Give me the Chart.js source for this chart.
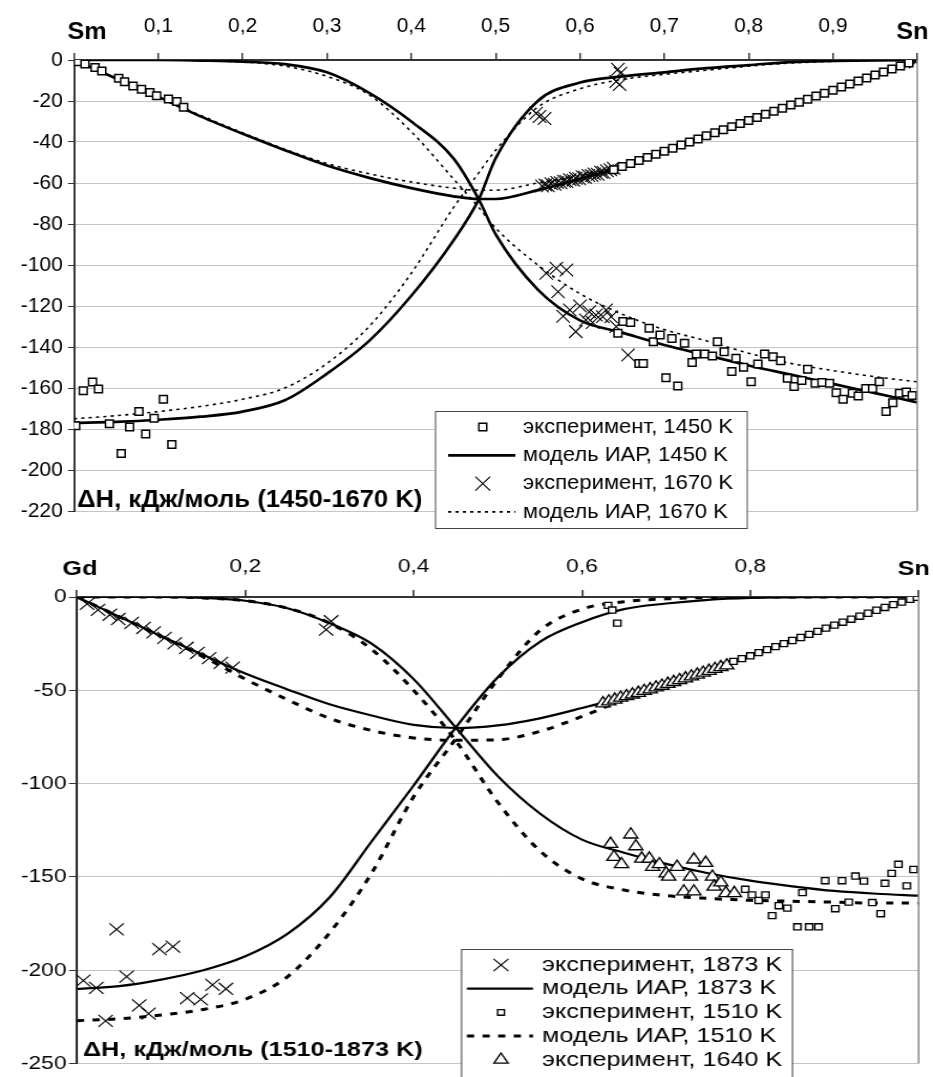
<!DOCTYPE html>
<html><head><meta charset="utf-8">
<script src="https://cdn.jsdelivr.net/npm/chart.js@4.4.0/dist/chart.umd.min.js"></script>
<style>
html,body{margin:0;padding:0;background:#fff;}
#wrap{position:relative;width:933px;height:1077px;overflow:hidden;background:#fff}
.panel{position:absolute;left:0;transform-origin:0 0;}
canvas{display:block}
</style></head><body>
<div id="wrap">
<div class="panel" style="top:0;width:889px;height:540px;transform:scaleX(1.0495)"><canvas id="c1" width="889" height="540"></canvas></div>
<div class="panel" style="top:540px;width:778px;height:537px;transform:scaleX(1.1992)"><canvas id="c2" width="778" height="537"></canvas></div>
</div>
<script>
// ===== Top panel: Sm–Sn =====
const smEndLabels = ['Sm', 'Sn'];
const smTitle = 'ΔH, кДж/моль (1450-1670 K)';
const smLegendLabels = ['эксперимент, 1450 K', 'модель ИАР, 1450 K', 'эксперимент, 1670 K', 'модель ИАР, 1670 K'];
const smGridX = [0,0.05,0.1,0.15,0.2,0.25,0.3,0.35,0.4,0.45,0.48,0.5,0.55,0.6,0.65,0.7,0.75,0.8,0.85,0.9,0.95,1];
const smInt1450  = [0,-9,-18,-27.5,-36,-44,-51.5,-57.5,-62.5,-66.5,-67.8,-67.8,-63.5,-58,-52,-44.5,-37,-29.5,-22,-14.7,-7.3,0];
const smSnPart1450 = [-177,-176.5,-175.5,-174,-171.5,-166,-153,-137,-115,-88,-68,-48,-20,-11,-8,-6,-4,-2.5,-1,-0.5,-0.2,0];
const smSmPart1450 = [0,0,0,-0.3,-0.8,-2,-6,-16,-30,-48,-68,-85,-112,-127,-133,-139,-144,-149,-153.5,-158,-162.5,-167];
const smInt1670  = [0,-9,-18,-27,-35.5,-43.5,-50.5,-55.5,-59.5,-62.5,-63.5,-63.5,-60,-56.5,-51.5,-44.5,-37,-29.5,-22,-14.7,-7.3,0];
const smSnPart1670 = [-175,-173.5,-171.5,-169,-165.5,-160,-148,-130,-104,-72,-55,-44,-23,-14,-9.5,-7,-5,-3,-1.5,-0.7,-0.2,0];
const smSmPart1670 = [0,0,0,-0.3,-1,-3,-8,-17,-35,-58,-72,-82,-100,-114,-124,-131.5,-137,-143,-148,-151.5,-154.5,-157];

const smExp1450X = [0.005,0.013,0.025,0.033,0.053,0.060,0.070,0.080,0.090,0.098,0.112,0.122,0.130,
  0.64,0.65,0.66,0.67,0.68,0.69,0.70,0.71,0.72,0.73,0.74,0.75,0.76,0.77,0.78,0.79,0.80,0.81,0.82,0.83,0.84,0.85,0.86,0.87,0.88,0.89,0.90,0.91,0.92,0.93,0.94,0.95,0.96,0.97,0.98,0.99,
  0.002,0.011,0.022,0.029,0.042,0.056,0.066,0.077,0.085,0.095,0.106,0.116,
  0.645,0.651,0.660,0.670,0.675,0.682,0.687,0.695,0.702,0.709,0.716,0.724,0.733,0.738,0.748,0.757,0.763,0.771,0.780,0.785,0.794,0.803,0.811,0.819,0.829,0.838,0.846,0.854,0.863,0.870,0.879,0.887,0.896,0.904,0.912,0.923,0.930,0.939,0.947,0.955,0.963,0.971,0.979,0.987,0.994];
const smExp1450Y = [-0.8,-2,-3.7,-5.4,-8.9,-10.6,-12.7,-14.3,-15.8,-17.4,-19,-20.3,-23.1,
  -53.5,-52,-50.5,-49,-47.5,-46,-44.5,-43,-41.5,-40,-38.5,-37,-35.5,-34,-32.5,-31,-29.5,-28,-26.5,-25,-23.5,-22,-20.6,-19.1,-17.6,-16.2,-14.7,-13.2,-11.7,-10.3,-8.8,-7.3,-5.9,-4.4,-2.9,-1.5,
  -178.4,-161.3,-157.1,-160.5,-177.4,-191.9,-179,-171.5,-182.4,-174.8,-165.5,-187.6,
  -133.3,-127.6,-128.1,-148,-148,-130.9,-137.4,-134.1,-155,-135.8,-159,-138.2,-147.6,-143.4,-143.4,-144.4,-137.4,-142.3,-152,-145.5,-149.9,-156.9,-148.3,-143.4,-144.7,-146.7,-155.3,-159.3,-156.4,-150.9,-157.7,-157.3,-157.7,-162.3,-165.5,-162.6,-163.9,-160.3,-160.3,-156.9,-171.5,-167.2,-162.6,-162,-163.7];
const smExp1670X = [0.555,0.559,0.562,0.566,0.570,0.573,0.577,0.581,0.584,0.588,0.592,0.595,0.599,0.603,0.606,0.610,0.614,0.617,0.621,0.625,0.628,0.632,0.636,0.640,0.998,
  0.548,0.552,0.558,0.643,0.645,0.647,0.648,
  0.560,0.572,0.584,0.574,0.580,0.588,0.595,0.600,0.607,0.611,0.615,0.619,0.627,0.631,0.637,0.643,0.657];
const smExp1670Y = [-61.5,-61.0,-61.3,-60.4,-60.6,-59.8,-59.9,-59.1,-59.3,-58.4,-58.6,-57.7,-57.9,-57.0,-57.2,-56.3,-56.4,-55.6,-55.7,-54.8,-54.9,-54.0,-53.5,-52.8,-1.0,
  -26,-27.6,-28.5,-10.5,-4.5,-12,-6.5,
  -104,-101.6,-102.4,-113,-125,-122,-132.5,-120,-126.8,-122.8,-128,-124.4,-125.2,-122,-125.2,-130,-143.9];

// ===== Bottom panel: Gd–Sn =====
const gdEndLabels = ['Gd', 'Sn'];
const gdTitle = 'ΔH, кДж/моль (1510-1873 K)';
const gdLegendLabels = ['эксперимент, 1873 K', 'модель ИАР, 1873 K', 'эксперимент, 1510 K', 'модель ИАР, 1510 K', 'эксперимент, 1640 K'];
const gdGridX = [0,0.05,0.1,0.15,0.2,0.25,0.3,0.35,0.4,0.45,0.5,0.55,0.6,0.65,0.7,0.75,0.8,0.85,0.9,0.95,1];
const gdInt1873 = [0,-10.5,-21,-31,-41,-49.5,-57.5,-63.5,-68.5,-70.2,-68.8,-65,-59.5,-53.5,-46.5,-39,-31.5,-23.5,-15.5,-7.5,0];
const gdSnPart1873 = [-210,-208.5,-205,-200,-192.5,-180.5,-161,-131,-101,-70,-43,-24,-13.5,-6.5,-3.5,-1.5,-0.5,-0.2,0,0,0];
const gdGdPart1873 = [0,0,0,-0.5,-2,-6,-14,-25,-44,-70,-96,-116,-130,-137,-143,-148,-152,-155,-157.5,-159,-160];
const gdInt1510 = [0,-10.5,-21,-32,-44,-55,-65,-71.5,-75.5,-76.8,-76.5,-72,-64,-55,-47,-39,-31.5,-23.5,-15.5,-7.5,0];
const gdSnPart1510 = [-227,-226,-224,-221,-215.5,-203.5,-180,-148,-107,-76,-44,-18,-6.5,-2.5,-1,-0.3,0,0,0,0,0];
const gdGdPart1510 = [0,0,0,-0.5,-2,-6,-14,-28,-50,-77,-110,-136,-151,-157,-160,-161.5,-162.5,-163,-163.5,-164,-164];

const gdExp1873X = [0.002,0.012,0.025,0.039,0.049,0.065,0.079,0.091,0.104,0.116,0.130,0.143,0.157,0.171,0.185,
  0.0075,0.023,0.034,0.047,0.059,0.074,0.085,0.098,0.114,0.131,0.147,0.161,0.177,0.296,0.302];
const gdExp1873Y = [0,-3.7,-6.9,-9.5,-11.8,-13.9,-16.6,-18.9,-21.9,-24.9,-27.2,-30,-32.8,-35.3,-37.8,
  -205.5,-209.4,-227.1,-178.1,-203.4,-218.8,-223.2,-188.7,-187.3,-214.9,-215.6,-207.8,-209.9,-17.5,-13];
const gdExp1510X = [0.780,0.790,0.800,0.810,0.820,0.830,0.840,0.850,0.860,0.870,0.880,0.890,0.900,0.910,0.920,0.930,0.940,0.950,0.960,0.970,0.980,0.990,0.998,
  0.631,0.636,0.642,
  0.794,0.802,0.810,0.818,0.826,0.834,0.844,0.856,0.862,0.870,0.881,0.889,0.901,0.909,0.917,0.925,0.935,0.945,0.955,0.960,0.968,0.976,0.986,0.994];
const gdExp1510Y = [-34.5,-33,-31.5,-29.8,-28.2,-26.6,-25,-23.3,-21.7,-20,-18.4,-16.7,-15.1,-13.5,-11.9,-10.3,-8.7,-7.1,-5.6,-4.1,-2.7,-1.3,-0.2,
  -4.5,-7,-14,
  -156.6,-159.6,-162.6,-159.6,-170.7,-165.4,-166.7,-176.7,-158.4,-176.7,-176.7,-152,-167,-152,-163.5,-149.5,-152.2,-163.7,-169.7,-153.4,-148.1,-143.2,-154.8,-146];
const gdExp1640X = [0.625,0.632,0.639,0.646,0.653,0.660,0.667,0.674,0.681,0.688,0.695,0.702,0.709,0.716,0.723,0.730,0.737,0.744,0.751,0.758,0.765,0.772,
  0.634,0.638,0.647,0.658,0.664,0.671,0.680,0.684,0.692,0.700,0.703,0.713,0.721,0.729,0.733,0.733,0.747,0.755,0.757,0.765,0.771,0.781];
const gdExp1640Y = [-57,-56,-55,-54,-53.2,-52.3,-51.4,-50.4,-49.5,-48.5,-47.6,-46.6,-45.6,-44.6,-43.6,-42.6,-41.6,-40.6,-39.6,-38.6,-37.6,-36.7,
  -132.3,-139.3,-143.2,-127.3,-133.6,-140.2,-140.2,-144.6,-143.2,-148.1,-149.9,-144.6,-157.8,-149.9,-140.7,-157.8,-142.5,-149.9,-155.2,-153,-158.7,-158.7];

// ===== helpers =====
const FONT = "'Liberation Sans', Arial, Helvetica, sans-serif";
const pts = (xs, ys) => xs.map((x, i) => ({x, y: ys[i]}));

function drawMarker(ctx, kind, x, y, r, bw) {
  ctx.save();
  ctx.lineWidth = bw; ctx.strokeStyle = '#000'; ctx.fillStyle = '#fff';
  ctx.beginPath();
  if (kind === 'rect') {
    const s = r * Math.SQRT1_2;
    ctx.rect(x - s, y - s, 2 * s, 2 * s); ctx.fill(); ctx.stroke();
  } else if (kind === 'crossRot') {
    const o = r * Math.SQRT1_2;
    ctx.moveTo(x - o, y - o); ctx.lineTo(x + o, y + o);
    ctx.moveTo(x + o, y - o); ctx.lineTo(x - o, y + o); ctx.stroke();
  } else if (kind === 'triangle') {
    for (let k = 0; k < 3; k++) {
      const a = k * 2 * Math.PI / 3;
      const px = x + Math.sin(a) * r, py = y - Math.cos(a) * r;
      k ? ctx.lineTo(px, py) : ctx.moveTo(px, py);
    }
    ctx.closePath(); ctx.fill(); ctx.stroke();
  }
  ctx.restore();
}

const decorPlugin = {
  id: 'decor',
  afterDraw(chart, args, o) {
    const {ctx, chartArea: a} = chart;
    const xs = chart.scales.x;
    ctx.save();
    ctx.strokeStyle = '#8c8c8c'; ctx.lineWidth = 1.5;
    ctx.beginPath(); ctx.moveTo(a.right, a.top); ctx.lineTo(a.right, a.bottom); ctx.stroke();
    ctx.fillStyle = '#000'; ctx.font = o.endFont; ctx.textAlign = 'center'; ctx.textBaseline = 'alphabetic';
    ctx.fillText(o.endLabels[0], xs.getPixelForValue(xs.min) + o.endDx[0], o.endY);
    ctx.fillText(o.endLabels[1], xs.getPixelForValue(xs.max) + o.endDx[1], o.endY);
    ctx.font = o.titleFont; ctx.textAlign = 'left';
    ctx.fillText(o.title, a.left + o.titleDx, a.bottom - o.titleDy);
    const L = o.legend;
    ctx.fillStyle = '#fff'; ctx.fillRect(L.x, L.y, L.w, L.h);
    ctx.strokeStyle = '#444'; ctx.lineWidth = 1; ctx.strokeRect(L.x + 0.5, L.y + 0.5, L.w, L.h);
    L.items.forEach((it, i) => {
      const y = L.y + L.first + i * L.step;
      if (it.kind === 'line') {
        ctx.save();
        ctx.strokeStyle = '#000'; ctx.lineWidth = it.width; ctx.setLineDash(it.dash);
        ctx.beginPath(); ctx.moveTo(L.lx0, y); ctx.lineTo(L.lx1, y); ctx.stroke();
        ctx.restore();
      } else {
        drawMarker(ctx, it.kind, L.sx, y, it.r, it.bw);
      }
      ctx.fillStyle = '#000'; ctx.font = L.font; ctx.textAlign = 'left'; ctx.textBaseline = 'middle';
      ctx.fillText(it.label, L.tx, y);
    });
    ctx.restore();
  }
};

function lineDs(label, ys, xs, width, dash) {
  return {type: 'scatter', label, data: pts(xs, ys), showLine: true, borderColor: '#000', borderWidth: width,
    borderDash: dash, pointRadius: 0, fill: false, cubicInterpolationMode: 'monotone', order: 2};
}
function markDs(label, xs, ys, style, r, bw) {
  return {type: 'scatter', label, data: pts(xs, ys), showLine: false, pointStyle: style, pointRadius: r,
    pointBorderWidth: bw, pointBorderColor: '#000', pointBackgroundColor: '#fff', order: 1};
}

function makeOptions(p) {
  return {
    responsive: false, animation: false, devicePixelRatio: 1, events: [],
    layout: {padding: {left: 0, top: 0, right: p.padRight, bottom: p.padBottom}},
    plugins: {legend: {display: false}, tooltip: {enabled: false}, decor: p.decor},
    scales: {
      x: {type: 'linear', position: 'top', min: 0, max: 1,
        afterFit: s => { s.height = p.xHeight; },
        ticks: {stepSize: p.xStep, padding: p.xPad, color: '#000', font: {family: FONT, size: p.tickSize},
          maxRotation: 0, autoSkip: false,
          callback: v => { const r = Math.round(v * 10) / 10; return (r <= 0 || r >= 1) ? '' : r.toFixed(1).replace('.', ','); }},
        grid: {drawOnChartArea: false, drawTicks: true, tickLength: p.xTick, tickColor: '#333', lineWidth: 1.5},
        border: {display: true, color: '#333', width: 2}},
      y: {type: 'linear', position: 'left', min: p.yMin, max: 0,
        afterFit: s => { s.width = p.yWidth; },
        ticks: {stepSize: p.yStep, padding: p.yPad, color: '#000', font: {family: FONT, size: p.tickSize}},
        grid: {color: c => (c.tick && c.tick.value === 0) ? 'rgba(0,0,0,0)' : '#c4c4c4', lineWidth: 1,
          drawTicks: true, tickLength: p.yTick, tickColor: '#333'},
        border: {display: true, color: '#333', width: 2}}
    }
  };
}

new Chart(document.getElementById('c1'), {
  type: 'scatter',
  data: {datasets: [
    markDs(smLegendLabels[0], smExp1450X, smExp1450Y, 'rect', 5.3, 1.5),
    markDs(smLegendLabels[2], smExp1670X, smExp1670Y, 'crossRot', 9, 1.1),
    lineDs(smLegendLabels[1], smInt1450, smGridX, 2.7, []),
    lineDs(smLegendLabels[1], smSnPart1450, smGridX, 2.7, []),
    lineDs(smLegendLabels[1], smSmPart1450, smGridX, 2.7, []),
    lineDs(smLegendLabels[3], smInt1670, smGridX, 1.6, [3, 4]),
    lineDs(smLegendLabels[3], smSnPart1670, smGridX, 1.6, [3, 4]),
    lineDs(smLegendLabels[3], smSmPart1670, smGridX, 1.6, [3, 4])
  ]},
  options: makeOptions({
    padRight: 14.3, padBottom: 29, xHeight: 60, yWidth: 70.5, xStep: 0.1, yStep: 20, yMin: -220,
    tickSize: 20, xPad: 15, yPad: 5, xTick: 7, yTick: 5.7,
    decor: {
      endLabels: smEndLabels, endFont: 'bold 24px ' + FONT, endDx: [12.4, -4.7], endY: 39,
      title: smTitle, titleFont: 'bold 24.4px ' + FONT, titleDx: 3, titleDy: 4.5,
      legend: {x: 414.5, y: 411, w: 297, h: 117, first: 16, step: 28.3, sx: 460, lx0: 427, lx1: 491, tx: 498.3,
        font: '21px ' + FONT,
        items: [
          {label: smLegendLabels[0], kind: 'rect', r: 5.3, bw: 1.5},
          {label: smLegendLabels[1], kind: 'line', width: 2.7, dash: []},
          {label: smLegendLabels[2], kind: 'crossRot', r: 10, bw: 1.1},
          {label: smLegendLabels[3], kind: 'line', width: 1.6, dash: [3, 4]}
        ]}
    }
  }),
  plugins: [decorPlugin]
});

new Chart(document.getElementById('c2'), {
  type: 'scatter',
  data: {datasets: [
    markDs(gdLegendLabels[0], gdExp1873X, gdExp1873Y, 'crossRot', 8.5, 1.1),
    markDs(gdLegendLabels[2], gdExp1510X, gdExp1510Y, 'rect', 4.3, 1.3),
    markDs(gdLegendLabels[4], gdExp1640X, gdExp1640Y, 'triangle', 6.8, 1.3),
    lineDs(gdLegendLabels[1], gdInt1873, gdGridX, 2.2, []),
    lineDs(gdLegendLabels[1], gdSnPart1873, gdGridX, 2.2, []),
    lineDs(gdLegendLabels[1], gdGdPart1873, gdGridX, 2.2, []),
    lineDs(gdLegendLabels[3], gdInt1510, gdGridX, 3, [6, 7]),
    lineDs(gdLegendLabels[3], gdSnPart1510, gdGridX, 3, [6, 7]),
    lineDs(gdLegendLabels[3], gdGdPart1510, gdGridX, 3, [6, 7])
  ]},
  options: makeOptions({
    padRight: 10.8, padBottom: 8, xHeight: 57, yWidth: 64.2, xStep: 0.2, yStep: 50, yMin: -250,
    tickSize: 19, xPad: 12, yPad: 2, xTick: 7, yTick: 6.7,
    decor: {
      endLabels: gdEndLabels, endFont: 'bold 21px ' + FONT, endDx: [2.5, -4.2], endY: 35,
      title: gdTitle, titleFont: 'bold 21px ' + FONT, titleDx: 5, titleDy: 7.3,
      legend: {x: 384.4, y: 409, w: 276, h: 140, first: 16, step: 23.7, sx: 417.8, lx0: 389.4, lx1: 444.5, tx: 452,
        font: '21px ' + FONT,
        items: [
          {label: gdLegendLabels[0], kind: 'crossRot', r: 8.8, bw: 1.1},
          {label: gdLegendLabels[1], kind: 'line', width: 2.2, dash: []},
          {label: gdLegendLabels[2], kind: 'rect', r: 4, bw: 1.3},
          {label: gdLegendLabels[3], kind: 'line', width: 3, dash: [6, 7]},
          {label: gdLegendLabels[4], kind: 'triangle', r: 6.8, bw: 1.3}
        ]}
    }
  }),
  plugins: [decorPlugin]
});
</script>
</body></html>
